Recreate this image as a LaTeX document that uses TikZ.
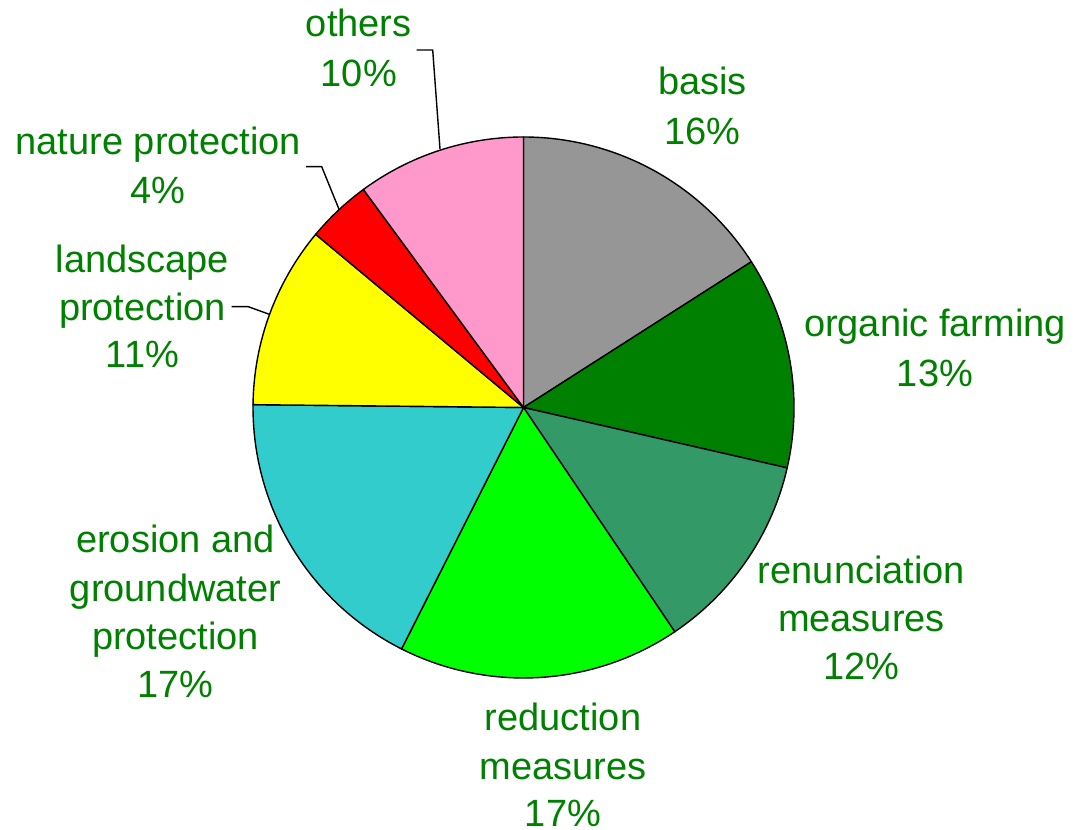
\documentclass[tikz,border=0pt]{standalone}
\usepackage{fontspec}
\setmainfont{Liberation Sans}
\usetikzlibrary{calc}
\definecolor{cbasis}{HTML}{969696}
\definecolor{corganic}{HTML}{008000}
\definecolor{crenun}{HTML}{339966}
\definecolor{creduc}{HTML}{00FF00}
\definecolor{cerosion}{HTML}{33CCCC}
\definecolor{clandsc}{HTML}{FFFF00}
\definecolor{cnature}{HTML}{FF0000}
\definecolor{cothers}{HTML}{FF99CC}
\definecolor{labgreen}{HTML}{008000}
\begin{document}
\begin{tikzpicture}[x=1pt,y=1pt,
  slice/.style={draw=black,line width=1.4pt,line join=round},
  lab/.style={anchor=base,inner sep=0pt,text=labgreen,font=\fontsize{38}{48}\selectfont},
  leader/.style={draw=black,line width=1.4pt}]
\useasboundingbox (0,0) rectangle (1077,830);
\coordinate (c) at (523.5,422.5);
\def\R{270.5}
% slices (clockwise from top)
\filldraw[slice,fill=cbasis]    (c) -- ($(c)+(90:\R pt)$)     arc[start angle=90,end angle=32.6,radius=\R] -- cycle;
\filldraw[slice,fill=corganic]  (c) -- ($(c)+(32.6:\R pt)$)   arc[start angle=32.6,end angle=-12.9,radius=\R] -- cycle;
\filldraw[slice,fill=crenun]    (c) -- ($(c)+(-12.9:\R pt)$)  arc[start angle=-12.9,end angle=-56,radius=\R] -- cycle;
\filldraw[slice,fill=creduc]    (c) -- ($(c)+(-56:\R pt)$)    arc[start angle=-56,end angle=-116.8,radius=\R] -- cycle;
\filldraw[slice,fill=cerosion]  (c) -- ($(c)+(-116.8:\R pt)$) arc[start angle=-116.8,end angle=-180.6,radius=\R] -- cycle;
\filldraw[slice,fill=clandsc]   (c) -- ($(c)+(-180.6:\R pt)$) arc[start angle=-180.6,end angle=-219.8,radius=\R] -- cycle;
\filldraw[slice,fill=cnature]   (c) -- ($(c)+(-219.8:\R pt)$) arc[start angle=-219.8,end angle=-233.7,radius=\R] -- cycle;
\filldraw[slice,fill=cothers]   (c) -- ($(c)+(-233.7:\R pt)$) arc[start angle=-233.7,end angle=-270,radius=\R] -- cycle;
% labels
\node[lab] (others1) at (358.8,793.3) {others};
\node[lab] (others2) at (358.8,743.3) {10\%};
\node[lab] (basis1) at (702.5,735.7) {basis};
\node[lab] (basis2) at (702.5,685.7) {16\%};
\node[lab] (organic1) at (935,493.3) {organic farming};
\node[lab] (organic2) at (935,443.3) {13\%};
\node[lab] (renun1) at (861.5,246.7) {renunciation};
\node[lab] (renun2) at (861.5,198.3) {measures};
\node[lab] (renun3) at (861.5,150.7) {12\%};
\node[lab] (reduc1) at (563,99) {reduction};
\node[lab] (reduc2) at (563,50.7) {measures};
\node[lab] (reduc3) at (563,3) {17\%};
\node[lab] (eros1) at (175.5,277.5) {erosion and};
\node[lab] (eros2) at (175.5,228) {groundwater};
\node[lab] (eros3) at (175.5,180) {protection};
\node[lab] (eros4) at (175.5,132) {17\%};
\node[lab] (land1) at (142.5,557.3) {landscape};
\node[lab] (land2) at (142.5,509.7) {protection};
\node[lab] (land3) at (142.5,462) {11\%};
\node[lab] (nat1) at (158.3,675.7) {nature protection};
\node[lab] (nat2) at (158.3,626.7) {4\%};
% leader lines
\coordinate (othersA) at (416.7,780);
\coordinate (othersB) at (432.7,780);
\coordinate (othersP) at (440,681);
\draw[leader] (othersA) -- (othersB) -- (othersP);
\coordinate (natA) at (306,663.3);
\coordinate (natB) at (321.7,663.3);
\coordinate (natP) at (339.3,620);
\draw[leader] (natA) -- (natB) -- (natP);
\coordinate (landA) at (231.7,523.3);
\coordinate (landB) at (248.3,523.3);
\coordinate (landP) at (269.3,515.7);
\draw[leader] (landA) -- (landB) -- (landP);
\end{tikzpicture}
\end{document}
